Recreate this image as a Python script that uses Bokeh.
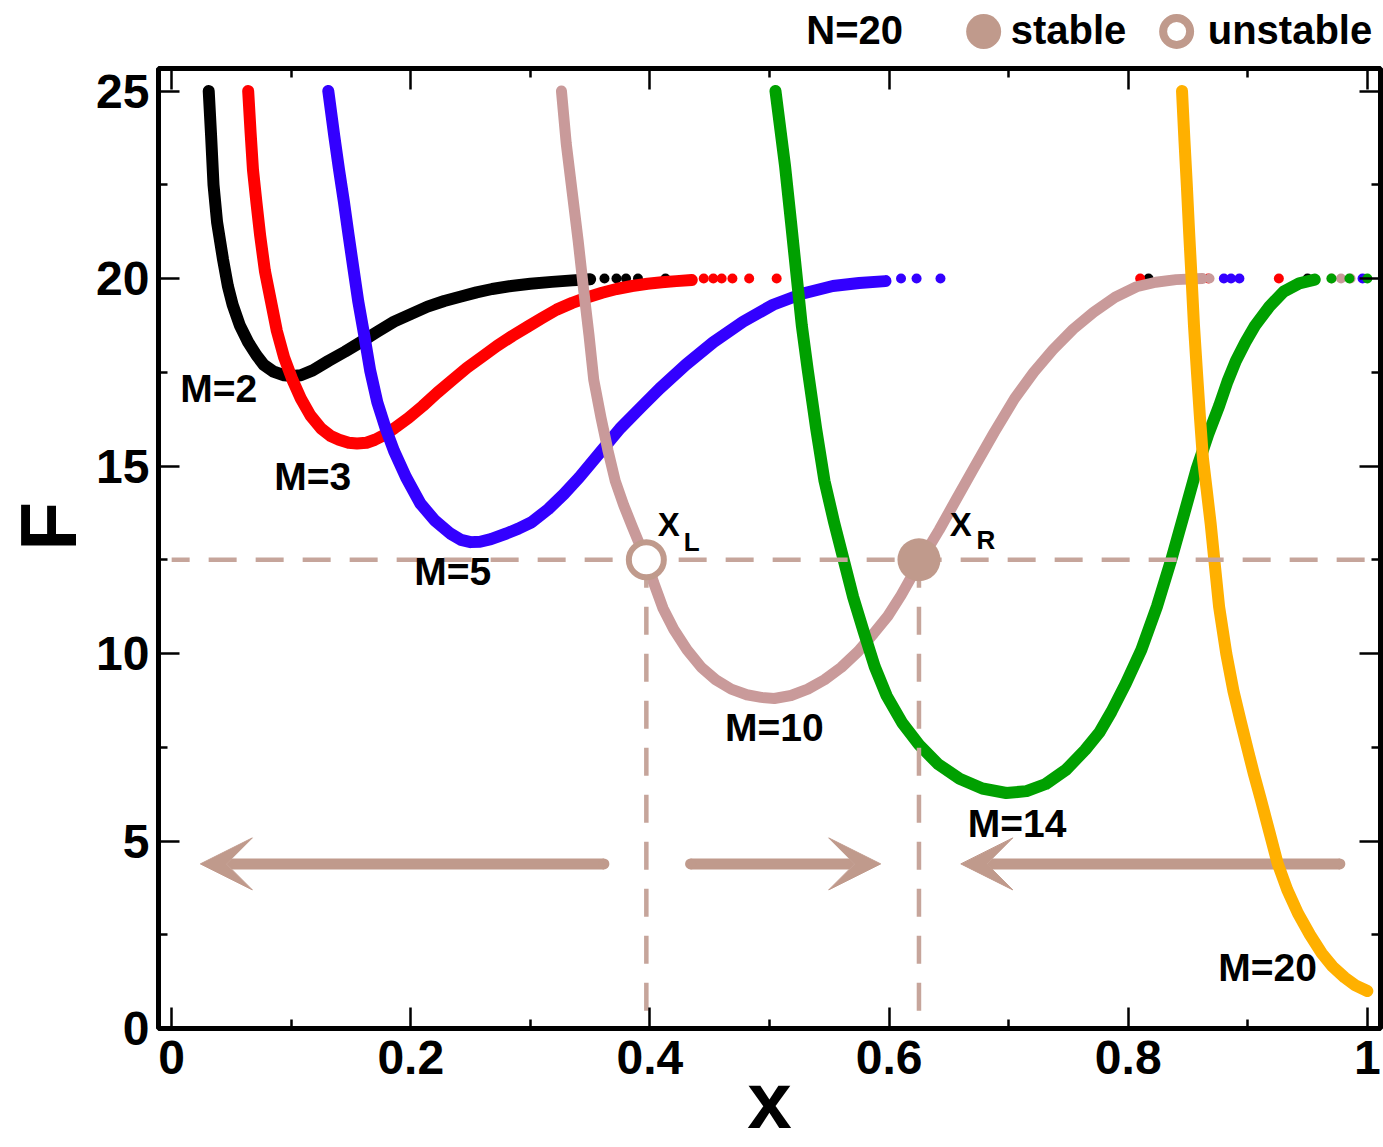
import math
from bokeh.plotting import figure
from bokeh.layouts import column
from bokeh.models import Range1d, LinearAxis, FixedTicker, Label, Arrow, VeeHead, NumeralTickFormatter
from bokeh.embed import file_html
from bokeh.resources import INLINE

FONT = "Liberation Sans"

# ---------------- data ----------------
x_major = [0.0, 0.2, 0.4, 0.6, 0.8, 1.0]
x_minor = [0.1, 0.3, 0.5, 0.7, 0.9]
x_labels = ["0", "0.2", "0.4", "0.6", "0.8", "1"]
y_major = [0, 5, 10, 15, 20, 25]
y_minor = [2.5, 7.5, 12.5, 17.5, 22.5]
y_labels = ["0", "5", "10", "15", "20", "25"]

m2_x = [0.031, 0.033, 0.035, 0.038, 0.043, 0.047, 0.051, 0.057, 0.064, 0.071, 0.077, 0.085, 0.094, 0.101,
        0.108, 0.118, 0.131, 0.145, 0.158, 0.172, 0.186, 0.200, 0.214, 0.228, 0.242, 0.255, 0.268, 0.284,
        0.300, 0.318, 0.335, 0.350]
m2_F = [25.0, 23.8, 22.5, 21.5, 20.5, 19.8, 19.3, 18.75, 18.3, 17.95, 17.7, 17.52, 17.42, 17.4,
        17.42, 17.55, 17.8, 18.05, 18.3, 18.58, 18.85, 19.05, 19.25, 19.4, 19.52, 19.63, 19.72, 19.8,
        19.86, 19.91, 19.95, 19.98]
m2_tail_x = [0.362, 0.372, 0.380, 0.390, 0.413, 0.817, 0.950]

m3_x = [0.064, 0.066, 0.068, 0.071, 0.074, 0.078, 0.083, 0.088, 0.094, 0.101, 0.108, 0.116, 0.125, 0.133,
        0.140, 0.148, 0.155, 0.163, 0.170, 0.178, 0.186, 0.198, 0.210, 0.222, 0.235, 0.247, 0.260, 0.272,
        0.285, 0.298, 0.310, 0.322, 0.335, 0.348, 0.360, 0.372, 0.385, 0.398, 0.410, 0.422, 0.435]
m3_F = [25.0, 23.9, 22.9, 22.0, 21.15, 20.2, 19.4, 18.6, 17.9, 17.3, 16.8, 16.35, 16.0, 15.8,
        15.7, 15.62, 15.6, 15.62, 15.7, 15.83, 16.0, 16.28, 16.6, 16.95, 17.3, 17.62, 17.92, 18.2,
        18.47, 18.72, 18.95, 19.17, 19.35, 19.5, 19.62, 19.72, 19.8, 19.86, 19.9, 19.93, 19.96]
m3_tail_x = [0.445, 0.453, 0.460, 0.469, 0.483, 0.506, 0.810, 0.867, 0.926]

m5_x = [0.131, 0.1335, 0.136, 0.140, 0.144, 0.148, 0.152, 0.156, 0.161, 0.166, 0.172, 0.179, 0.186, 0.196,
        0.208, 0.220, 0.233, 0.242, 0.250, 0.258, 0.267, 0.280, 0.290, 0.301, 0.315, 0.328, 0.341, 0.358,
        0.375, 0.392, 0.408, 0.430, 0.453, 0.478, 0.503, 0.528, 0.553, 0.575, 0.597]
m5_F = [25.0, 24.4, 23.8, 22.9, 22.06, 21.15, 20.27, 19.4, 18.5, 17.55, 16.7, 16.0, 15.4, 14.7,
        14.0, 13.55, 13.2, 13.03, 12.97, 12.98, 13.05, 13.2, 13.33, 13.5, 13.85, 14.25, 14.7, 15.35,
        16.0, 16.55, 17.06, 17.7, 18.3, 18.85, 19.3, 19.6, 19.8, 19.88, 19.93]
m5_tail_x = [0.610, 0.623, 0.643, 0.880, 0.886, 0.893, 0.996]

m10_x = [0.326, 0.330, 0.335, 0.340, 0.344, 0.349, 0.353, 0.359, 0.365, 0.371, 0.378, 0.385, 0.392, 0.397,
         0.403, 0.411, 0.420, 0.431, 0.443, 0.455, 0.468, 0.481, 0.493, 0.504, 0.518, 0.532, 0.546, 0.560,
         0.574, 0.587, 0.599, 0.610, 0.625, 0.642, 0.656, 0.671, 0.688, 0.705, 0.721, 0.737, 0.754, 0.771,
         0.789, 0.807, 0.823, 0.840, 0.862]
m10_F = [25.0, 23.6, 22.3, 21.0, 19.85, 18.5, 17.3, 16.3, 15.4, 14.6, 13.96, 13.4, 12.86, 12.5,
         11.9, 11.2, 10.64, 10.1, 9.63, 9.3, 9.05, 8.9, 8.83, 8.8, 8.88, 9.05, 9.3, 9.63,
         10.05, 10.53, 11.0, 11.55, 12.4, 13.3, 14.1, 14.95, 15.9, 16.8, 17.5, 18.1, 18.65, 19.1,
         19.5, 19.78, 19.9, 19.97, 20.0]
m10_tail_x = [0.868, 0.970, 0.978, 0.986]

m14_x = [0.505, 0.509, 0.513, 0.518, 0.523, 0.527, 0.532, 0.539, 0.546, 0.554, 0.562, 0.570, 0.579, 0.588,
         0.598, 0.611, 0.625, 0.641, 0.659, 0.678, 0.698, 0.715, 0.731, 0.748, 0.764, 0.776, 0.786, 0.798,
         0.811, 0.824, 0.836, 0.847, 0.857, 0.867, 0.876, 0.883, 0.890, 0.898, 0.906, 0.918, 0.930, 0.943,
         0.956]
m14_F = [25.0, 24.0, 23.0, 21.5, 19.97, 18.75, 17.56, 16.0, 14.6, 13.5, 12.5, 11.5, 10.56, 9.65,
         8.87, 8.15, 7.57, 7.05, 6.66, 6.4, 6.28, 6.33, 6.52, 6.9, 7.43, 7.9, 8.45, 9.2,
         10.1, 11.25, 12.5, 13.75, 14.9, 15.85, 16.6, 17.25, 17.8, 18.3, 18.74, 19.25, 19.65, 19.87,
         19.97]
m14_tail_x = [0.970, 0.985, 1.000]

m20_x = [0.845, 0.847, 0.849, 0.851, 0.853, 0.855, 0.8575, 0.860, 0.8625, 0.8655, 0.869, 0.872, 0.876, 0.882,
         0.888, 0.894, 0.900, 0.905, 0.911, 0.918, 0.925, 0.933, 0.942, 0.952, 0.962, 0.971, 0.981, 0.990,
         1.000]
m20_F = [25.0, 23.7, 22.5, 21.2, 20.0, 18.75, 17.5, 16.3, 15.2, 14.4, 13.45, 12.5, 11.25, 10.0,
         9.0, 8.2, 7.43, 6.8, 6.1, 5.25, 4.4, 3.7, 3.07, 2.5, 2.0, 1.65, 1.36, 1.15,
         1.0]

tail_F = 20.0          # plateau value of the sparse tail points
F_star = 12.5          # dashed level
x_L = 0.397            # unstable fixed point
x_R = 0.625            # stable fixed point
arrow_F = 4.39
arrows = [(0.3615, 0.024), (0.434, 0.593), (0.977, 0.660)]

m_texts = ["M=2", "M=3", "M=5", "M=10", "M=14", "M=20"]
legend_texts = ["N=20", "stable", "unstable"]

# ---------------- styling ----------------
C_BLACK, C_RED, C_BLUE = "#000000", "#FF0000", "#3300FF"
C_ROSE, C_GREEN, C_YELLOW = "#C99A9A", "#00A000", "#FFB000"
C_TAN = "#C09A8C"
C_DASH = "#C6A59B"
W = 1383

xr = Range1d(-0.011, 1.011)


def lab(fig, x, y, text, size, align="center", color="black", angle=0.0, style="bold"):
    fig.add_layout(Label(x=x, y=y, text=text, text_font=FONT, text_font_size=f"{size}px",
                         text_font_style=style, text_align=align, text_baseline="middle",
                         text_color=color, angle=angle))


# ---------- top strip (legend row); y in pixels from its top ----------
top = figure(width=W, height=58, output_backend="svg", toolbar_location=None,
             x_range=xr, y_range=Range1d(58, 0),
             min_border=0, x_axis_type=None, y_axis_type=None)
top.grid.visible = False
top.outline_line_color = None

lab(top, 0.5712, 29, legend_texts[0], 40)
top.scatter([0.6791], [31], size=35, fill_color=C_TAN, line_color=None)
lab(top, 0.7017, 29, legend_texts[1], 40, align="left")
top.scatter([0.8405], [31], size=27, fill_color="white", line_color=C_TAN, line_width=8)
lab(top, 0.8665, 29, legend_texts[2], 40, align="left")

# ---------- main chart ----------
p = figure(width=W, height=1147 - 58, output_backend="svg", toolbar_location=None,
           x_range=xr, y_range=Range1d(0, 25.6),
           min_border_left=158, min_border_right=3, min_border_top=10, min_border_bottom=119)
p.grid.visible = False
p.outline_line_color = "black"
p.outline_line_width = 5
p.background_fill_color = "white"
p.border_fill_color = "white"

xt = FixedTicker(ticks=x_major, minor_ticks=x_minor)
yt = FixedTicker(ticks=y_major, minor_ticks=y_minor)


def style_axis(ax, show_labels):
    ax.axis_line_color = None
    ax.major_tick_in = 21
    ax.major_tick_out = 0
    ax.minor_tick_in = 9
    ax.minor_tick_out = 0
    ax.major_tick_line_width = 2.5
    ax.minor_tick_line_width = 2.5
    ax.major_tick_line_color = "black"
    ax.minor_tick_line_color = "black"
    if show_labels:
        ax.major_label_text_font = FONT
        ax.major_label_text_font_style = "bold"
        ax.major_label_text_font_size = "48px"
        ax.major_label_text_color = "black"
    else:
        ax.major_label_text_font_size = "0px"
        ax.major_label_text_alpha = 0
        ax.major_label_standoff = 0


xa = p.xaxis[0]
xa.ticker = xt
xa.formatter = NumeralTickFormatter(format="0.[0]")
xa.major_label_overrides = {float(t): s for t, s in zip(x_major, x_labels)}
style_axis(xa, True)
xa.major_label_standoff = 12
xa.axis_label = "x"
xa.axis_label_text_font = FONT
xa.axis_label_text_font_style = "bold"
xa.axis_label_text_font_size = "80px"
xa.axis_label_text_color = "black"
xa.axis_label_standoff = -21

ya = p.yaxis[0]
ya.ticker = yt
ya.major_label_overrides = {float(t): s for t, s in zip(y_major, y_labels)}
style_axis(ya, True)
ya.major_label_standoff = 9
ya.axis_label = "\u00A0\u00A0F"
ya.axis_label_text_font = FONT
ya.axis_label_text_font_style = "bold"
ya.axis_label_text_font_size = "80px"
ya.axis_label_text_color = "black"
ya.axis_label_standoff = 0

ra = LinearAxis(ticker=yt)
style_axis(ra, False)
p.add_layout(ra, "right")
ta = LinearAxis(ticker=xt)
style_axis(ta, False)
p.add_layout(ta, "above")

# arrows (under the curves)
for x0, x1 in arrows:
    p.add_layout(Arrow(end=VeeHead(size=52, fill_color=C_TAN, line_color=C_TAN, line_width=1),
                       x_start=x0, y_start=arrow_F, x_end=x1, y_end=arrow_F,
                       line_color=C_TAN, line_width=11, line_cap="butt", level="underlay"))
p.scatter([a[0] for a in arrows], [arrow_F] * len(arrows), size=11, fill_color=C_TAN, line_color=None)

curves = [
    (m2_x, m2_F, m2_tail_x, C_BLACK, 12),
    (m3_x, m3_F, m3_tail_x, C_RED, 12),
    (m5_x, m5_F, m5_tail_x, C_BLUE, 12),
    (m10_x, m10_F, m10_tail_x, C_ROSE, 11),
    (m14_x, m14_F, m14_tail_x, C_GREEN, 12),
    (m20_x, m20_F, [], C_YELLOW, 12),
]
for xs, Fs, tx, col, lw in curves:
    p.line(xs, Fs, line_color=col, line_width=lw, line_cap="round", line_join="round")
    if tx:
        p.scatter(tx, [tail_F] * len(tx), size=10, fill_color=col, line_color=None)

# dashed guide lines
p.line([0.0, 1.011], [F_star, F_star], line_color=C_DASH, line_width=4.5, line_dash="28 19", line_dash_offset=10)
p.line([x_L, x_L], [F_star, 0], line_color=C_DASH, line_width=4.5, line_dash="28 19")
p.line([x_R, x_R], [F_star, 0], line_color=C_DASH, line_width=4.5, line_dash="28 19")

# fixed points
p.scatter([x_R], [F_star], size=43, fill_color=C_TAN, line_color=None)
p.scatter([x_L], [F_star], size=35, fill_color="white", line_color=C_TAN, line_width=6)

m_pos_x = [0.0393, 0.118, 0.235, 0.504, 0.707, 0.9166]
m_pos_y = [17.06, 14.71, 12.19, 8.02, 5.48, 1.63]
for t, lx, ly in zip(m_texts, m_pos_x, m_pos_y):
    lab(p, lx, ly, t, 39)

lab(p, 0.4157, 13.45, "X", 33)
lab(p, 0.4349, 12.97, "L", 26)
lab(p, 0.660, 13.45, "X", 33)
lab(p, 0.681, 13.02, "R", 26)

layout = column(top, p, spacing=0)
open("out.html", "w").write(file_html(layout, INLINE))
